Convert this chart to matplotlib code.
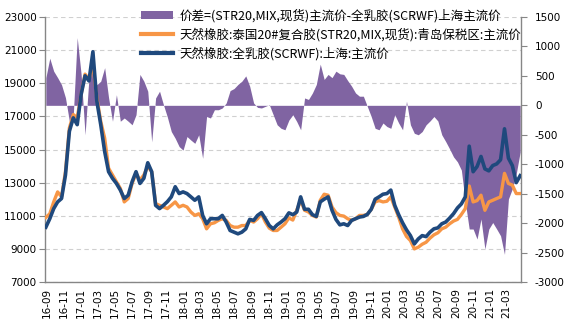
import matplotlib.pyplot as plt
import matplotlib.dates as mdates
import pandas as pd
from matplotlib.patches import Patch
from matplotlib.lines import Line2D

plt.rcParams['font.family'] = ['Noto Sans CJK SC', 'DejaVu Sans']
plt.rcParams['axes.unicode_minus'] = False

# sampled every two weeks
dates = pd.date_range('2016-08-28', periods=122, freq='14D')

# 天然橡胶:全乳胶(SCRWF):上海:主流价
scrwf = [
    10310, 10820, 11430, 11835, 12040, 13460, 16100, 16910, 16500, 18330,
    19450, 19140, 20900, 17925, 16500, 14880, 13660, 13260, 12950, 12550,
    12040, 12240, 13050, 13660, 12950, 13260, 14200, 13660, 11630, 11430,
    11630, 11850, 12140, 12750, 12340, 12440, 12340, 12140, 11935, 12140,
    11020, 10515, 10820, 10820, 10820, 11020, 10620, 10110, 10010, 9910,
    10010, 10210, 10780, 10720, 11020, 11190, 10820, 10410, 10210, 10450,
    10620, 10820, 11175, 11065, 11225, 12140, 11390, 11390, 11065, 10960,
    11835, 12000, 12140, 11330, 10780, 10450, 10515, 10410, 10720, 10820,
    10920, 10960, 11080, 11390, 12000, 12140, 12300, 12340, 12550, 11630,
    11065, 10575, 10150, 9800, 9300, 9600, 9800, 9740, 10010, 10210,
    10270, 10515, 10620, 10860, 11125, 11470, 11715, 12140, 15200, 13660,
    13970, 14580, 13830, 13710, 14030, 14130, 14380, 16250, 14480, 14030,
    13000, 13420,
]

# 天然橡胶:泰国20#复合胶(STR20,MIX,现货):青岛保税区:主流价
str20 = [
    10900, 11120, 11835, 12440, 12140, 13660, 16300, 17110, 16910, 18330,
    19550, 19240, 20150, 18130, 16700, 15690, 13870, 13460, 13050, 12650,
    11835, 12040, 12950, 13560, 13150, 13460, 13970, 13660, 11730, 11630,
    11530, 11430, 11630, 11835, 11530, 11630, 11530, 11225, 11020, 11120,
    10820, 10210, 10515, 10575, 10720, 10820, 10720, 10410, 10310, 10310,
    10410, 10410, 10720, 10620, 10820, 11120, 10620, 10250, 10110, 10110,
    10310, 10515, 10870, 10740, 11330, 11935, 11330, 11225, 11020, 10920,
    11935, 12300, 12240, 11530, 11190, 11020, 10980, 10820, 10720, 10820,
    11020, 11020, 11080, 11390, 11835, 11915, 11835, 11875, 12140, 11530,
    10920, 10210, 9750, 9500, 9000, 9100, 9280, 9400, 9650, 9850,
    9970, 10210, 10310, 10515, 10680, 10780, 11080, 11430, 12800, 11835,
    11915, 12240, 11330, 11835, 11935, 12040, 12140, 13560, 12950, 12850,
    12340, 12340,
]

# 价差 (right axis)
spread = [
    470, 800, 580, 470, 350, 130, -270, -160, 1150, 525,
    -500, 470, 580, 350, 410, 640, 130, -270, 180, -270,
    -215, -270, -330, -160, 525, 410, 240, -620, 125, 240,
    10, -200, -445, -560, -700, -760, -530, -590, -645, -500,
    -900, -190, -215, -75, -75, -45, 40, 250, 285, 355,
    410, 500, 325, 40, -35, -45, -17, 10, -160, -330,
    -390, -415, -250, -160, -275, -415, 125, 100, 210, 355,
    700, 440, 525, 470, 580, 535, 525, 420, 325, 210,
    155, 155, -17, -190, -390, -415, -300, -360, -390, -160,
    -300, -415, 70, -330, -475, -500, -445, -330, -265, -190,
    -265, -500, -615, -740, -875, -960, -1100, -1645, -2100, -2100,
    -2270, -1930, -2440, -2100, -1990, -2100, -2215, -2530, -1590, -1415,
    -1160, -790,
]

labels = [
    '价差=(STR20,MIX,现货)主流价-全乳胶(SCRWF)上海主流价',
    '天然橡胶:泰国20#复合胶(STR20,MIX,现货):青岛保税区:主流价',
    '天然橡胶:全乳胶(SCRWF):上海:主流价',
]

c_purple = '#8064A2'
c_orange = '#F79646'
c_navy = '#1F497D'
c_axis = '#868686'

fig = plt.figure(figsize=(5.67, 3.25), dpi=100)
ax1 = fig.add_axes([0.0794, 0.1323, 0.8395, 0.8154])
ax2 = ax1.twinx()
ax3 = ax1.twinx()

x0 = pd.Timestamp('2016-08-25')
x1 = pd.Timestamp('2021-04-21')

# left axis: prices, grid
ax1.set_ylim(7000, 23000)
ax1.set_yticks(range(7000, 23001, 2000))
ax1.grid(axis='y', color='#D0D0D0', linestyle=(0, (4, 3)), linewidth=0.8)
ax1.set_xlim(x0, x1)

# right axis: spread area
ax2.fill_between(dates, 0, spread, color=c_purple, linewidth=0, interpolate=True)
ax2.set_ylim(-3000, 1500)
ax2.set_yticks(range(-3000, 1501, 500))

# lines on top, same scale as the left axis
ax3.plot(dates, str20, color=c_orange, linewidth=2.4, solid_joinstyle='round')
ax3.plot(dates, scrwf, color=c_navy, linewidth=2.6, solid_joinstyle='round')
ax3.set_ylim(7000, 23000)
ax3.set_xlim(x0, x1)
ax3.set_yticks([])
for s in ax3.spines.values():
    s.set_visible(False)

ax1.xaxis.set_major_locator(mdates.MonthLocator(bymonth=[1, 3, 5, 7, 9, 11]))
ax1.xaxis.set_major_formatter(mdates.DateFormatter('%y-%m'))
for lab in ax1.get_xticklabels():
    lab.set_rotation(90)

for ax in (ax1, ax2):
    ax.spines['top'].set_visible(False)
    for s in ('left', 'right', 'bottom'):
        ax.spines[s].set_color(c_axis)
        ax.spines[s].set_linewidth(1.0)
ax1.spines['right'].set_visible(False)
ax2.spines['left'].set_visible(False)
ax2.spines['bottom'].set_visible(False)

ax1.tick_params(axis='y', labelsize=7.5, length=4, color=c_axis, pad=2,
                labelfontfamily='DejaVu Sans')
ax1.tick_params(axis='x', labelsize=7.5, length=0, pad=4,
                labelfontfamily='DejaVu Sans')
ax2.tick_params(axis='y', labelsize=7.5, length=4, color=c_axis, pad=6,
                labelfontfamily='DejaVu Sans')

handles = [
    Patch(facecolor=c_purple, edgecolor='none'),
    Line2D([], [], color=c_orange, linewidth=3),
    Line2D([], [], color=c_navy, linewidth=3),
]
fig.legend(handles, labels, loc='upper left', bbox_to_anchor=(132 / 567, 1.0),
           frameon=False, fontsize=9, handlelength=2.6, handletextpad=0.5,
           labelspacing=0.42, borderaxespad=0.3)

fig.savefig('out.png', dpi=100)
